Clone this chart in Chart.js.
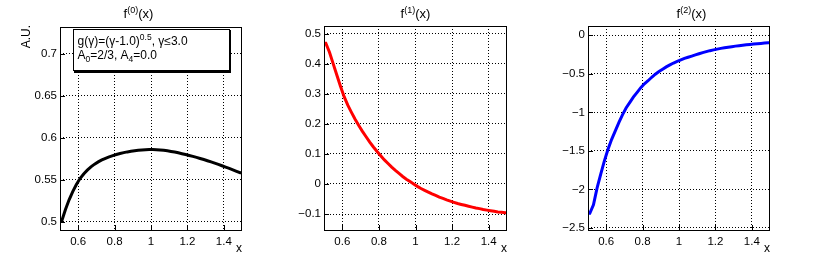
<!DOCTYPE html>
<html><head><meta charset="utf-8">
<script src="https://cdn.jsdelivr.net/npm/chart.js@4.4.1/dist/chart.umd.min.js"></script>
<style>
html,body{margin:0;padding:0;background:#fff;}
#wrap{position:relative;width:830px;height:258px;overflow:hidden;background:#fff;}
canvas{position:absolute;top:0;}
</style></head><body>
<div id="wrap">
<canvas id="c0" width="277" height="258" style="left:0px;width:277px;height:258px"></canvas>
<canvas id="c1" width="277" height="258" style="left:277px;width:277px;height:258px"></canvas>
<canvas id="c2" width="277" height="258" style="left:553px;width:277px;height:258px"></canvas>
</div>
<script>
// histogram range and bin centres (50 bins of width 0.02 from 0.5 to 1.5)
const xRange = [0.5, 1.5];
const binCenters = [0.51,0.53,0.55,0.57,0.59,0.61,0.63,0.65,0.67,0.69,
  0.71,0.73,0.75,0.77,0.79,0.81,0.83,0.85,0.87,0.89,
  0.91,0.93,0.95,0.97,0.99,1.01,1.03,1.05,1.07,1.09,
  1.11,1.13,1.15,1.17,1.19,1.21,1.23,1.25,1.27,1.29,
  1.31,1.33,1.35,1.37,1.39,1.41,1.43,1.45,1.47,1.49];

// f^(0)(x) bin contents
const f0Values = [0.5010,0.5145,0.5260,0.5358,0.5443,0.5513,0.5568,0.5613,0.5652,0.5685,
  0.5712,0.5735,0.5755,0.5772,0.5787,0.5800,0.5812,0.5822,0.5831,0.5839,
  0.5846,0.5851,0.5855,0.5858,0.5860,0.5860,0.5858,0.5855,0.5850,0.5844,
  0.5837,0.5829,0.5820,0.5810,0.5800,0.5789,0.5778,0.5766,0.5753,0.5740,
  0.5726,0.5712,0.5697,0.5682,0.5666,0.5650,0.5634,0.5617,0.5600,0.5583];

// f^(1)(x) bin contents
const f1Values = [0.468,0.438,0.400,0.362,0.325,0.290,0.262,0.238,0.215,0.194,
  0.175,0.157,0.139,0.123,0.108,0.094,0.080,0.068,0.056,0.045,
  0.035,0.025,0.016,0.008,0.000,-0.008,-0.015,-0.021,-0.027,-0.033,
  -0.038,-0.044,-0.048,-0.053,-0.057,-0.061,-0.065,-0.068,-0.071,-0.074,
  -0.077,-0.080,-0.082,-0.085,-0.087,-0.089,-0.091,-0.093,-0.094,-0.096];

// f^(2)(x) bin contents
const f2Values = [-2.31,-2.20,-1.98,-1.80,-1.63,-1.48,-1.35,-1.24,-1.13,-1.03,
  -0.94,-0.87,-0.80,-0.74,-0.68,-0.63,-0.59,-0.545,-0.505,-0.47,
  -0.44,-0.41,-0.385,-0.36,-0.34,-0.32,-0.30,-0.285,-0.27,-0.255,
  -0.24,-0.225,-0.212,-0.20,-0.19,-0.18,-0.17,-0.162,-0.155,-0.148,
  -0.141,-0.135,-0.129,-0.124,-0.119,-0.114,-0.110,-0.106,-0.102,-0.098];

// tick labels
const xTicks = [0.6,0.8,1.0,1.2,1.4];
const f0Ticks = [0.5,0.55,0.6,0.65,0.7];
const f1Ticks = [-0.1,0,0.1,0.2,0.3,0.4,0.5];
const f2Ticks = [-2.5,-2,-1.5,-1,-0.5,0];

const titles = ['(0)','(1)','(2)'];
const legendLines = [
  [['g(γ)=(γ-1.0)',0],['0.5',-1],[', γ≤3.0',0]],
  [['A',0],['0',1],['=2/3, A',0],['4',1],['=0.0',0]]
];

const FONT = '"Liberation Sans", Arial, Helvetica, sans-serif';

function fmt(v){
  const a = Math.abs(+(+v).toFixed(4));
  return (v < -1e-9 ? '\u2212' : '') + String(a);
}

// polyline like ROOT "L": starts at the low edge with the first bin, ends at the high edge with the last bin
function histPoints(vals){
  const pts = [{x: xRange[0], y: vals[0]}];
  binCenters.forEach((x,i)=>pts.push({x:x, y:vals[i]}));
  pts.push({x: xRange[1], y: vals[vals.length-1]});
  return pts;
}

function drawRich(ctx, parts, x, y, size, subSize){
  let cx = x;
  for (const [t, mode] of parts){
    if (mode === 0){ ctx.font = size+'px '+FONT; ctx.fillText(t, cx, y); cx += ctx.measureText(t).width; }
    else {
      ctx.font = subSize+'px '+FONT;
      const dy = mode < 0 ? -5 : 3;
      ctx.fillText(t, cx, y+dy); cx += ctx.measureText(t).width;
    }
  }
  return cx - x;
}
function richWidth(ctx, parts, size, subSize){
  let w = 0;
  for (const [t, mode] of parts){
    ctx.font = (mode===0?size:subSize)+'px '+FONT;
    w += ctx.measureText(t).width;
  }
  return w;
}

function makeChart(id, cfg){
  const W = 277, H = 258;
  const deco = {
    id: 'deco'+id,
    afterDraw(chart){
      const ctx = chart.ctx, a = chart.chartArea;
      const xs = chart.scales.x, ys = chart.scales.y;
      ctx.save();
      ctx.strokeStyle = '#000'; ctx.lineWidth = 1;
      ctx.beginPath();
      for (const t of cfg.yTicks){ const py = Math.round(ys.getPixelForValue(t))+0.5; ctx.moveTo(a.left, py); ctx.lineTo(a.left+5, py); }
      for (const t of xTicks){ const px = Math.round(xs.getPixelForValue(t))+0.5; ctx.moveTo(px, a.bottom); ctx.lineTo(px, a.bottom-5); }
      ctx.stroke();
      ctx.strokeRect(Math.round(a.left)+0.5, Math.round(a.top)+0.5, Math.round(a.right-a.left)-1, Math.round(a.bottom-a.top));
      ctx.fillStyle = '#000';
      ctx.textBaseline = 'alphabetic'; ctx.textAlign = 'left';
      const parts = [['f',0],[cfg.sup,-1],['(x)',0]];
      const tw = richWidth(ctx, parts, 13, 9);
      drawRich(ctx, parts, W/2 - tw/2, 17.5, 13, 9);
      ctx.font = '12px '+FONT; ctx.textAlign = 'right';
      ctx.fillText('x', a.right, 252);
      if (cfg.yTitle){
        ctx.save();
        ctx.translate(30, 25);
        ctx.rotate(-Math.PI/2);
        ctx.textAlign = 'right';
        ctx.font = '12px '+FONT;
        ctx.fillText(cfg.yTitle, 0, 0);
        ctx.restore();
      }
      if (cfg.legend){
        ctx.fillStyle = '#000';
        ctx.fillRect(74, 30, 157, 43);
        ctx.fillStyle = '#fff';
        ctx.fillRect(73, 29, 157, 42);
        ctx.strokeStyle = '#000'; ctx.lineWidth = 1;
        ctx.strokeRect(73.5, 29.5, 156, 41);
        ctx.fillStyle = '#000'; ctx.textAlign = 'left';
        drawRich(ctx, legendLines[0], 77.5, 44.5, 12, 8.5);
        drawRich(ctx, legendLines[1], 77.5, 59, 12, 8.5);
      }
      ctx.restore();
    }
  };
  return new Chart(document.getElementById(id), {
    type: 'line',
    data: { datasets: [{ data: histPoints(cfg.values), borderColor: cfg.color, borderWidth: 3,
      pointRadius: 0, fill: false, tension: 0, borderJoinStyle: 'miter' }] },
    options: {
      responsive: false, animation: false, events: [],
      plugins: { legend: {display:false}, title: {display:false}, tooltip: {enabled:false} },
      layout: { padding: { left: 0, top: cfg.top, right: W - cfg.right, bottom: 0 } },
      scales: {
        x: { type: 'linear', min: xRange[0], max: xRange[1],
          afterBuildTicks: s => { s.ticks = xTicks.map(v=>({value:v})); },
          afterFit: s => { s.height = H - cfg.bottom; },
          grid: { color: '#000', lineWidth: 1, drawTicks: false },
          border: { display: false, dash: [1,2] },
          ticks: { color: '#000', font: { family: FONT, size: 11.5 }, padding: 5, maxRotation: 0, callback: v => fmt(v) } },
        y: { type: 'linear', min: cfg.ymin, max: cfg.ymax,
          afterBuildTicks: s => { s.ticks = cfg.yTicks.map(v=>({value:v})); },
          afterFit: s => { s.width = cfg.left; },
          grid: { color: '#000', lineWidth: 1, drawTicks: false },
          border: { display: false, dash: [1,2] },
          ticks: { color: '#000', font: { family: FONT, size: 11.5 }, padding: 3, callback: v => fmt(v) } }
      }
    },
    plugins: [deco]
  });
}

makeChart('c0', { values: f0Values, color: '#000000', yTicks: f0Ticks, ymin: 0.490, ymax: 0.732,
  left: 60, right: 242, top: 27, bottom: 230, sup: titles[0], yTitle: 'A.U.', legend: true });
makeChart('c1', { values: f1Values, color: '#ff0000', yTicks: f1Ticks, ymin: -0.153, ymax: 0.525,
  left: 47, right: 230, top: 26, bottom: 230, sup: titles[1] });
makeChart('c2', { values: f2Values, color: '#0000ff', yTicks: f2Ticks, ymin: -2.526, ymax: 0.12,
  left: 35, right: 217, top: 26, bottom: 230, sup: titles[2] });
</script>
</body></html>
